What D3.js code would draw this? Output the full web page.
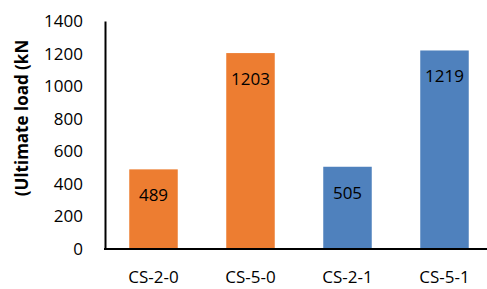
<!DOCTYPE html>
<html>
<head>
<meta charset="utf-8">
<script src="https://cdn.jsdelivr.net/npm/d3@7"></script>
<style>
  body { margin: 0; background: #fff; }
  text { font-family: "Open Sans", sans-serif; }
</style>
</head>
<body>
<div id="chart"></div>
<script>
const categories = ["CS-2-0", "CS-5-0", "CS-2-1", "CS-5-1"];
const loads = [489, 1203, 505, 1219];
const barColors = ["#ED7D31", "#ED7D31", "#4F81BD", "#4F81BD"];
const yTicks = [0, 200, 400, 600, 800, 1000, 1200, 1400];

const W = 487, H = 289;
const margin = {top: 21, right: -6, bottom: 40, left: 105};

const svg = d3.select("#chart").append("svg")
    .attr("width", W)
    .attr("height", H);

const x = d3.scaleBand()
    .domain(categories)
    .range([margin.left, W - margin.right])
    .paddingInner(0.5)
    .paddingOuter(0.25);

const y = d3.scaleLinear()
    .domain([0, 1400])
    .range([H - margin.bottom, margin.top]);

// bars
svg.selectAll("rect.bar")
    .data(loads)
    .enter()
    .append("rect")
    .attr("class", "bar")
    .attr("x", (d, i) => x(categories[i]))
    .attr("y", d => y(d))
    .attr("width", x.bandwidth())
    .attr("height", d => y(0) - y(d))
    .attr("fill", (d, i) => barColors[i]);

// value labels
svg.selectAll("text.val")
    .data(loads)
    .enter()
    .append("text")
    .attr("class", "val")
    .attr("x", (d, i) => x(categories[i]) + x.bandwidth() / 2)
    .attr("y", d => y(d) + 26)
    .attr("dy", "0.35em")
    .attr("text-anchor", "middle")
    .style("font-size", "17px")
    .attr("fill", "#000")
    .text(d => d);

// y axis
const yAxis = svg.append("g")
    .attr("transform", "translate(" + margin.left + ",0)")
    .call(d3.axisLeft(y).tickValues(yTicks).tickFormat(d3.format("d")).tickSize(0).tickPadding(22));
yAxis.select(".domain").attr("stroke", "#000").attr("stroke-width", 2);
yAxis.selectAll("text").style("font-size", "17px").attr("fill", "#000");

// x axis
const xAxis = svg.append("g")
    .attr("transform", "translate(0," + y(0) + ")")
    .call(d3.axisBottom(x).tickSize(0).tickPadding(22));
xAxis.select(".domain").attr("stroke", "#000").attr("stroke-width", 2)
    .attr("d", "M" + (margin.left - 1) + ",0H" + W);
xAxis.selectAll("text").style("font-size", "17px").attr("fill", "#000");

// y label
svg.append("text")
    .attr("transform", "translate(22," + 118 + ") rotate(-90)")
    .attr("text-anchor", "middle")
    .attr("dy", "0.35em")
    .style("font-size", "17px")
    .style("font-weight", "bold")
    .text("(Ultimate load (kN");
</script>
</body>
</html>
